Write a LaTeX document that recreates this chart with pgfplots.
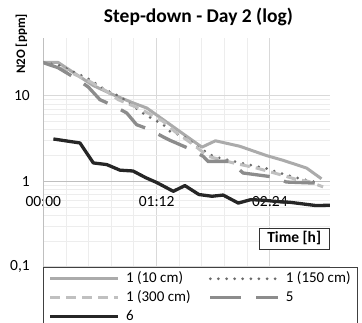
\documentclass[border=0pt]{standalone}
\usepackage{pgfplots}
\pgfplotsset{compat=1.18}
\usepackage{fontspec}
\setmainfont{Carlito}

\definecolor{c10}{HTML}{ABABAB}
\definecolor{c150}{HTML}{6A6A6A}
\definecolor{c300}{HTML}{C0C0C0}
\definecolor{c5}{HTML}{8C8C8C}
\definecolor{c6}{HTML}{262626}
\definecolor{majgrid}{HTML}{D9D9D9}
\definecolor{mingrid}{HTML}{EDEDED}
\definecolor{axline}{HTML}{BFBFBF}

\begin{document}
\begin{tikzpicture}
\useasboundingbox (0,0) rectangle (362bp,323bp);
\begin{axis}[
  at={(43.3bp,56.3bp)}, anchor=south west,
  scale only axis, width=286.7bp, height=229bp,
  xmin=0, xmax=182.2, ymode=log, ymin=0.1, ymax=48,
  xtick={0,72,144}, xticklabels={00:00,01:12,02:24},
  minor x tick num=4,
  ytick={0.1,1,10}, yticklabels={{0,1},1,10},
  grid=both,
  major grid style={draw=majgrid, line width=0.9bp},
  minor grid style={draw=mingrid, line width=0.9bp},
  axis line style={draw=none},
  tick style={draw=none},
  extra x ticks={0}, extra x tick labels={},
  extra x tick style={grid=major, major grid style={draw=axline, line width=1.1bp}},
  extra y ticks={1}, extra y tick labels={},
  extra y tick style={grid=major, major grid style={draw=axline, line width=1.3bp}},
  xticklabel style={font=\fontsize{15.5bp}{18bp}\selectfont, anchor=base, yshift=60bp},
  yticklabel style={font=\fontsize{15.5bp}{18bp}\selectfont, xshift=-10bp},
  title={Step-down - Day 2 (log)},
  title style={font=\bfseries\fontsize{19.5bp}{22bp}\selectfont, at={(axis description cs:0.541,1.042)}, anchor=base},
  ylabel={N2O [ppm]},
  ylabel style={font=\bfseries\fontsize{13bp}{15bp}\selectfont, at={(axis description cs:-0.076,0.9725)}, anchor=center},
  xlabel={Time [h]},
  xlabel style={font=\bfseries\fontsize{15.5bp}{18bp}\selectfont, draw=black!80, line width=0.9bp, fill=white,
    at={(axis description cs:0.875,0.123)}, anchor=center, inner xsep=8bp, inner ysep=3.2bp, text height=11bp, text depth=3.5bp},
  legend columns=2,
  legend cell align=left,
  legend style={at={(0,0)}, anchor=north west, draw=black!75, line width=0.9bp,
    font=\fontsize{15bp}{18bp}\selectfont, inner xsep=5bp, inner ysep=2.5bp, row sep=0.5bp,
    nodes={inner sep=2bp, text height=11bp, text depth=3.2bp},
    /tikz/every even column/.append style={column sep=16bp}},
  legend image code/.code={\draw[#1] (0bp,0bp) -- (68bp,0bp); \path (72bp,0bp);},
]
\addplot[c10, line width=3bp, line join=round] coordinates {
(0,24.6) (9.5,24.6) (21.2,17.7) (31.8,13.2) (44.5,10.3) (57.2,8.26) (65.7,7.22)
(76.2,5.27) (91.1,3.36) (100.8,2.51) (109.4,2.98) (124.9,2.57) (141.9,2.0)
(152.4,1.76) (167.3,1.43) (176.8,1.07)};
\addlegendentry{1 (10 cm)}
\addplot[c150, line width=3bp, line cap=round, dash pattern=on 0bp off 8.1bp] coordinates {
(0,24.8) (10.6,22.7) (29.7,15.5) (39.2,11.8) (48.7,9.87) (57.2,7.54) (64.6,6.03)
(76.2,4.6) (80.5,3.84) (91.1,3.22) (97.4,2.57) (108,1.96) (116.5,1.79) (130.2,1.57)
(140.8,1.43) (150.3,1.25) (161,1.10) (174.5,0.965)};
\addlegendentry{1 (150 cm)}
\addplot[c300, line width=3bp, dash pattern=on 10bp off 6bp] coordinates {
(0,24.5) (13.8,20.2) (29.7,14.7) (40.3,11.3) (47.6,9.03) (61.4,7.08) (76.2,5.03)
(83.7,3.81) (95.3,2.69) (104.8,1.96) (120.7,1.64) (135.5,1.43) (150.3,1.2)
(161,1.05) (168.3,1.0) (177.8,0.86)};
\addlegendentry{1 (300 cm)}
\addplot[c5, line width=3.3bp, dash pattern=on 31bp off 15bp] coordinates {
(0,24.5) (9.3,21.4) (21.2,15.8) (28.6,12.7) (36.0,9.03) (44.5,7.68) (53.0,6.31)
(59.3,4.60) (67.8,4.02) (76.2,3.31) (80.5,3.02) (93.2,2.39) (101.6,1.96) (104.8,1.71)
(118.6,1.71) (127.0,1.25) (145.1,1.13) (154.6,0.98) (174.2,0.95)};
\addlegendentry{5}
\addplot[c6, line width=3.3bp, line join=round] coordinates {
(6.4,3.13) (23.3,2.81) (31.8,1.64) (40.3,1.57) (48.7,1.35) (57.0,1.32) (65.2,1.10)
(72.2,0.965) (82.6,0.764) (90.0,0.89) (98.9,0.70) (107.2,0.668) (114.3,0.69)
(123.9,0.556) (131.9,0.61) (140.2,0.60) (148.4,0.58) (156.7,0.568) (173.2,0.52) (182.1,0.524)};
\addlegendentry{6}
\end{axis}
\end{tikzpicture}
\end{document}
